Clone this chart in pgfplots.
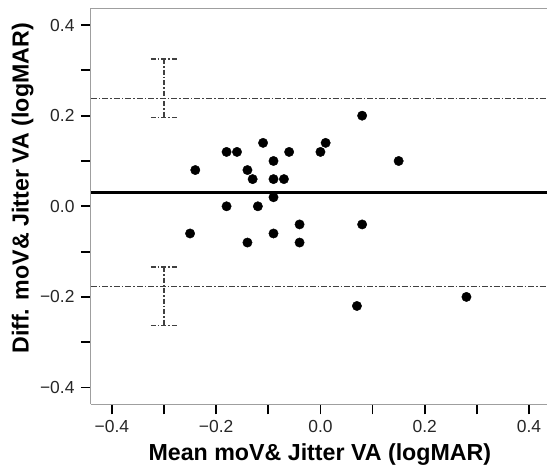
\documentclass[border=0pt]{standalone}
\usepackage{fontspec}
\setmainfont{Liberation Sans}
\usepackage{pgfplots}
\pgfplotsset{compat=1.18}
\begin{document}
\begin{tikzpicture}
\begin{axis}[
  name=ax,
  scale only axis,
  width=456bp, height=396bp,
  xmin=-0.44, xmax=0.4345,
  ymin=-0.437, ymax=0.437,
  axis x line*=box, axis y line*=left,
  axis line style={-, draw=gray!75, line width=1bp},
  tick pos=left, tick align=outside,
  major tick length=10bp, minor tick length=10bp,
  every tick/.style={black, line width=1.8bp},
  xtick={-0.4,-0.2,0,0.2,0.4},
  xticklabels={−0.4,−0.2,0.0,0.2,0.4},
  minor xtick={-0.3,-0.1,0.1,0.3},
  ytick={-0.4,-0.2,0,0.2,0.4},
  yticklabels={−0.4,−0.2,0.0,0.2,0.4},
  minor ytick={-0.3,-0.1,0.1,0.3},
  ticklabel style={font=\fontsize{17.5}{20}\selectfont, text=black!85},
  xticklabel style={yshift=-2.5bp},
  yticklabel style={xshift=-3bp},
  xlabel={Mean moV\& Jitter VA (logMAR)},
  ylabel={Diff. moV\& Jitter VA (logMAR)},
  label style={font=\fontsize{23.3}{26}\selectfont\bfseries},
  xlabel style={at={(axis description cs:0.502,-0.143)}, anchor=base},
  ylabel style={at={(axis description cs:-0.150,0.545)}, anchor=center, rotate=0},
  clip=true,
]
% limits of agreement
\addplot[black!75, line width=1.1bp, dash pattern=on 6bp off 2bp on 1.5bp off 2bp]
  coordinates {(-0.44,0.237) (0.44,0.237)};
\addplot[black!75, line width=1.1bp, dash pattern=on 6bp off 2bp on 1.5bp off 2bp]
  coordinates {(-0.44,-0.177) (0.44,-0.177)};
% mean difference
\addplot[black, line width=2.6bp] coordinates {(-0.44,0.030) (0.44,0.030)};
% confidence intervals
\addplot[black!75, line width=1.1bp, dash pattern=on 5bp off 2bp on 1.5bp off 2bp]
  coordinates {(-0.300,0.325) (-0.300,0.195)};
\addplot[black!75, line width=1.1bp, dash pattern=on 5bp off 2bp on 1.5bp off 2bp]
  coordinates {(-0.325,0.325) (-0.275,0.325)};
\addplot[black!75, line width=1.1bp, dash pattern=on 5bp off 2bp on 1.5bp off 2bp]
  coordinates {(-0.325,0.195) (-0.275,0.195)};
\addplot[black!75, line width=1.1bp, dash pattern=on 5bp off 2bp on 1.5bp off 2bp]
  coordinates {(-0.300,-0.134) (-0.300,-0.264)};
\addplot[black!75, line width=1.1bp, dash pattern=on 5bp off 2bp on 1.5bp off 2bp]
  coordinates {(-0.325,-0.134) (-0.275,-0.134)};
\addplot[black!75, line width=1.1bp, dash pattern=on 5bp off 2bp on 1.5bp off 2bp]
  coordinates {(-0.325,-0.264) (-0.275,-0.264)};
% data points
\addplot[only marks, mark=*, mark size=4.7bp, black] coordinates {
  (0.08,0.20) (-0.11,0.14) (-0.18,0.12) (-0.16,0.12) (-0.06,0.12)
  (0.00,0.12) (0.01,0.14) (-0.09,0.10) (-0.24,0.08) (-0.14,0.08)
  (-0.13,0.06) (-0.09,0.06) (-0.07,0.06) (0.15,0.10) (-0.09,0.02)
  (-0.18,0.00) (-0.12,0.00) (-0.04,-0.04) (0.08,-0.04) (-0.25,-0.06)
  (-0.09,-0.06) (-0.14,-0.08) (-0.04,-0.08) (0.07,-0.22) (0.28,-0.20)
};
\end{axis}
\pgfresetboundingbox
\path ([xshift=-91bp,yshift=-63.7bp]ax.south west) rectangle ([yshift=8.3bp]ax.north east);
\end{tikzpicture}
\end{document}
